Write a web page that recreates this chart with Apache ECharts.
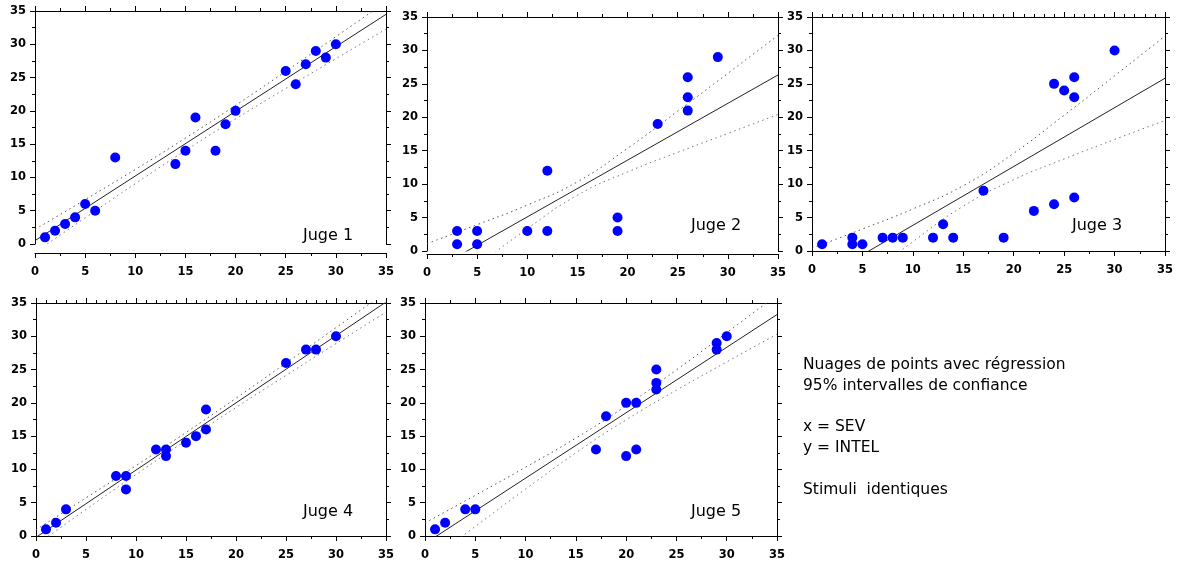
<!DOCTYPE html>
<html><head><meta charset="utf-8">
<script src="https://cdn.jsdelivr.net/npm/echarts@6/dist/echarts.min.js"></script>
<style>html,body{margin:0;padding:0;background:#fff}#c{width:1182px;height:566px}</style>
</head><body><div id="c"></div>
<script>
// ---------- data ----------
const judgeNames = ['Juge 1', 'Juge 2', 'Juge 3', 'Juge 4', 'Juge 5'];
const axisMin = 0, axisMax = 35, axisStep = 5;
const bandX = [0, 5, 10, 15, 20, 25, 30, 35];
const fitX = [0, 35];

const j1X = [1, 2, 3, 4, 5, 6, 8, 14, 15, 16, 18, 19, 20, 25, 26, 27, 28, 29, 30];
const j1Y = [1, 2, 3, 4, 6, 5, 13, 12, 14, 19, 14, 18, 20, 26, 24, 27, 29, 28, 30];
const j1Fit = [0.5, 34.5];
const j1Upper = [2.19, 6.66, 11.20, 15.90, 20.83, 25.94, 31.14, 36.38];
const j1Lower = [-1.29, 3.93, 9.06, 14.04, 18.79, 23.36, 27.84, 32.28];

const j2X = [3, 3, 5, 5, 10, 12, 12, 19, 19, 23, 26, 26, 26, 29];
const j2Y = [3, 1, 3, 1, 3, 12, 3, 5, 3, 19, 26, 23, 21, 29];
const j2Fit = [-3.39, 26.33];
const j2Upper = [1.1, 3.94, 6.87, 10.35, 15.36, 20.92, 26.57, 32.25];
const j2Lower = [-7.88, -2.22, 3.33, 8.35, 11.82, 14.76, 17.59, 20.41];

const j3X = [1, 4, 4, 5, 7, 8, 9, 12, 13, 14, 17, 19, 22, 24, 24, 25, 26, 26, 26, 30];
const j3Y = [1, 2, 1, 1, 2, 2, 2, 2, 4, 2, 9, 2, 6, 25, 7, 24, 26, 23, 8, 30];
const j3Fit = [-4.96, 25.84];
const j3Upper = [0.41, 3.29, 6.29, 9.77, 14.62, 20.31, 26.2, 32.15];
const j3Lower = [-10.33, -4.41, 1.39, 6.71, 10.66, 13.77, 16.68, 19.53];

const j4X = [1, 2, 3, 8, 9, 9, 12, 13, 13, 15, 16, 17, 17, 25, 27, 28, 30];
const j4Y = [1, 2, 4, 9, 9, 7, 13, 13, 12, 14, 15, 19, 16, 26, 28, 28, 30];
const j4Fit = [-0.2, 35.15];
const j4Upper = [0.94, 5.73, 10.57, 15.55, 20.7, 25.98, 31.3, 36.65];
const j4Lower = [-1.34, 3.98, 9.23, 14.35, 19.3, 24.13, 28.9, 33.65];

const j5X = [1, 2, 4, 5, 17, 18, 20, 20, 21, 21, 23, 23, 23, 29, 29, 30];
const j5Y = [1, 2, 4, 4, 13, 18, 20, 12, 20, 13, 25, 23, 22, 29, 28, 30];
const j5Fit = [-1.14, 33.26];
const j5Upper = [1.96, 6.11, 10.33, 14.71, 19.56, 24.95, 30.53, 36.2];
const j5Lower = [-4.24, 1.43, 7.05, 12.49, 17.46, 21.91, 26.15, 30.32];

const noteLines = ['Nuages de points avec régression', '95% intervalles de confiance', '',
  'x = SEV', 'y = INTEL', '', 'Stimuli  identiques'];

// ---------- layout / style ----------
const panels = [
  {xs: j1X, ys: j1Y, fit: j1Fit, up: j1Upper, lo: j1Lower},
  {xs: j2X, ys: j2Y, fit: j2Fit, up: j2Upper, lo: j2Lower},
  {xs: j3X, ys: j3Y, fit: j3Fit, up: j3Upper, lo: j3Lower},
  {xs: j4X, ys: j4Y, fit: j4Fit, up: j4Upper, lo: j4Lower},
  {xs: j5X, ys: j5Y, fit: j5Fit, up: j5Upper, lo: j5Lower}
];
const layout = [
  {left: 35, top: 11, width: 351, height: 233, xOffset: 9, topMinor: 2, lab: [303, 237]},
  {left: 427, top: 17, width: 351, height: 234, xOffset: 3, topMinor: 2, lab: [691, 227]},
  {left: 812, top: 17, width: 353, height: 234, xOffset: 0, topMinor: 5, lab: [1072, 227]},
  {left: 36, top: 303, width: 350, height: 233, xOffset: 0, topMinor: 5, lab: [303, 513]},
  {left: 425, top: 303, width: 352, height: 233, xOffset: 0, topMinor: 2, lab: [691, 513]}
];

function axisCommon(pos, showLabel, minorSplit, offset, grid) {
  return {
    type: 'value', gridIndex: grid, position: pos, offset: offset || 0,
    min: axisMin, max: axisMax, interval: axisStep,
    axisLine: {show: true, onZero: false, lineStyle: {color: '#000', width: 1}},
    axisTick: {show: true, inside: false, length: 5, lineStyle: {color: '#000', width: 1}},
    minorTick: {show: true, splitNumber: minorSplit, length: 3, lineStyle: {color: '#000', width: 1}},
    splitLine: {show: false}, minorSplitLine: {show: false},
    axisLabel: showLabel ? {
      show: true, margin: (pos === 'left' ? 9 : 13),
      fontFamily: 'DejaVu Sans', fontWeight: 'bold', fontSize: 11.5, color: '#000'
    } : {show: false}
  };
}

const grids = [], xAxes = [], yAxes = [], series = [], graphics = [];
panels.forEach((p, i) => {
  const L = layout[i];
  grids.push({left: L.left, top: L.top, width: L.width, height: L.height, containLabel: false});
  xAxes.push(axisCommon('bottom', true, 2, L.xOffset, i));
  xAxes.push(axisCommon('top', false, L.topMinor, 0, i));
  yAxes.push(axisCommon('left', true, 2, 0, i));
  yAxes.push(axisCommon('right', false, 2, 0, i));
  const xi = 2 * i, yi = 2 * i;
  [p.up, p.lo].forEach((band, k) => {
    series.push({
      type: 'line', xAxisIndex: xi, yAxisIndex: yi, smooth: true, showSymbol: false, clip: true, silent: true,
      data: bandX.map((x, j) => [x, band[j]]),
      lineStyle: {color: k === 0 ? '#555' : '#777', width: 1, type: [1.5, 3.5]}, z: 2
    });
  });
  series.push({
    type: 'line', xAxisIndex: xi, yAxisIndex: yi, showSymbol: false, clip: true, silent: true,
    data: fitX.map((x, j) => [x, p.fit[j]]),
    lineStyle: {color: '#222', width: 1}, z: 3
  });
  series.push({
    type: 'scatter', xAxisIndex: xi, yAxisIndex: yi, symbol: 'circle', symbolSize: 10,
    itemStyle: {color: '#0000ff', opacity: 1}, z: 5, clip: false,
    data: p.xs.map((x, j) => [x, p.ys[j]])
  });
  graphics.push({
    type: 'text', left: L.lab[0], top: L.lab[1] - 9, z: 10,
    style: {text: judgeNames[i], font: '16px "DejaVu Sans", sans-serif', fill: '#000'}
  });
});

graphics.push({
  type: 'text', left: 803, top: 355, z: 10,
  style: {text: noteLines.join('\n'), font: '15.5px "DejaVu Sans", sans-serif', lineHeight: 20.7, fill: '#000'}
});

const chart = echarts.init(document.getElementById('c'), null, {renderer: 'canvas'});
chart.setOption({
  animation: false,
  backgroundColor: '#fff',
  grid: grids, xAxis: xAxes, yAxis: yAxes, series: series, graphic: graphics
});
</script></body></html>
